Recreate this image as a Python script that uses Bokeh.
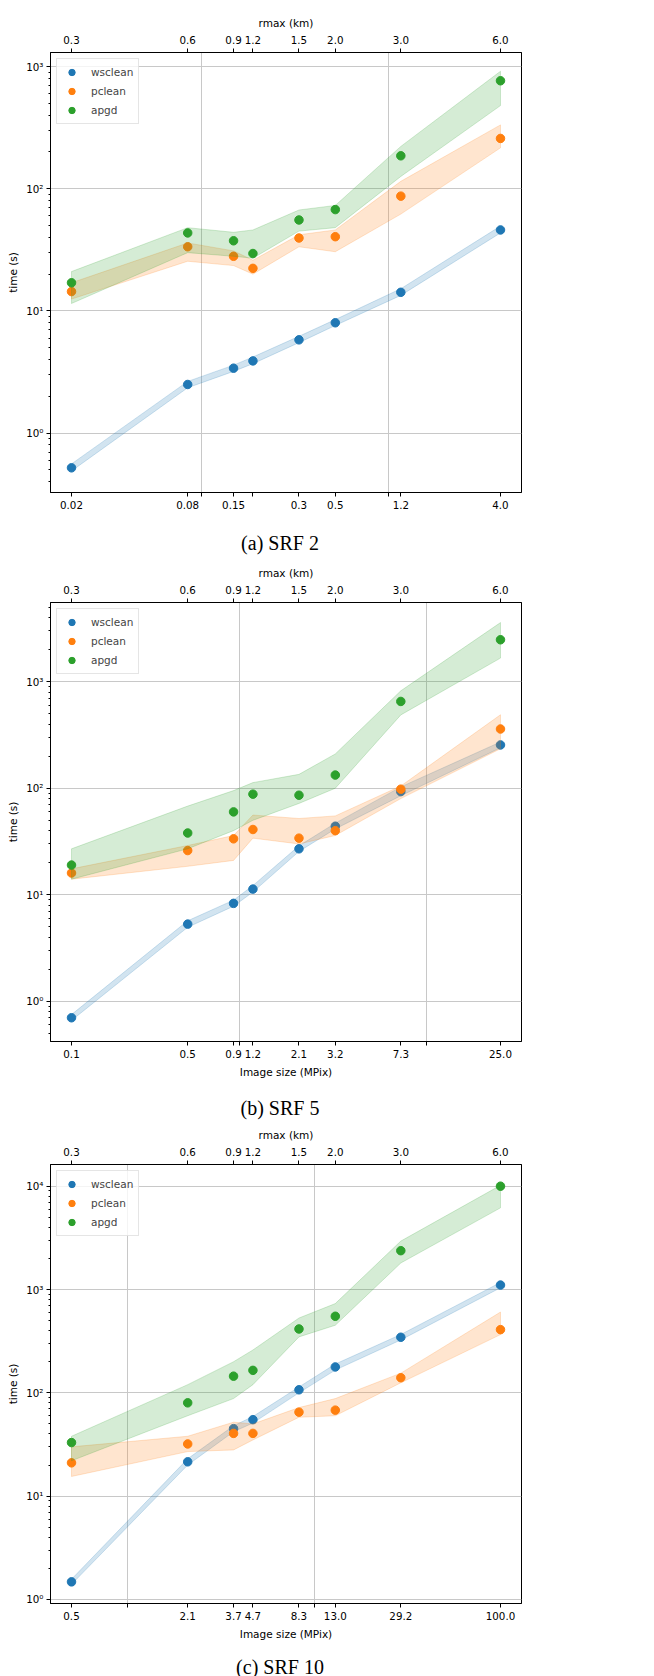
from bokeh.plotting import figure
from bokeh.models import Range1d, LogAxis, FixedTicker, Div
from bokeh.layouts import column
from bokeh.embed import file_html
from bokeh.resources import INLINE

# ---------------- data ----------------
rmax_labels = ["0.3", "0.6", "0.9", "1.2", "1.5", "2.0", "3.0", "6.0"]
methods = ["wsclean", "pclean", "apgd"]
colors = ["#1f77b4", "#ff7f0e", "#2ca02c"]

# (a) SRF 2
size_a = [0.02, 0.084, 0.148, 0.188, 0.332, 0.52, 1.168, 4.0]
size_labels_a = ["0.02", "0.08", "0.15", "", "0.3", "0.5", "1.2", "4.0"]
wsclean_a = [0.52, 2.5, 3.4, 3.9, 5.8, 8.0, 14.2, 46.0]
wsclean_a_lo = [0.49, 2.35, 3.2, 3.7, 5.5, 7.6, 13.4, 43.5]
wsclean_a_hi = [0.56, 2.65, 3.6, 4.2, 6.2, 8.5, 15.2, 49.5]
pclean_a = [14.4, 33.5, 28.0, 22.3, 39.5, 40.5, 87.0, 258.0]
pclean_a_lo = [12.5, 25.5, 23.5, 20.0, 33.5, 30.5, 62.0, 216.0]
pclean_a_hi = [17.0, 36.0, 31.0, 26.0, 42.0, 46.0, 115.0, 333.0]
apgd_a = [17.0, 43.5, 37.5, 29.5, 55.5, 67.5, 186.0, 765.0]
apgd_a_lo = [11.5, 30.0, 28.0, 27.0, 45.0, 48.0, 126.0, 479.0]
apgd_a_hi = [21.0, 48.0, 44.0, 46.0, 67.0, 73.0, 222.0, 915.0]

# (b) SRF 5
size_b = [0.125, 0.525, 0.925, 1.175, 2.075, 3.25, 7.3, 25.0]
size_labels_b = ["0.1", "0.5", "0.9", "1.2", "2.1", "3.2", "7.3", "25.0"]
wsclean_b = [0.70, 5.3, 8.3, 11.3, 27.0, 44.0, 93.0, 255.0]
wsclean_b_lo = [0.66, 4.95, 7.8, 10.6, 25.5, 41.5, 85.0, 240.0]
wsclean_b_hi = [0.75, 5.7, 8.9, 12.2, 28.8, 47.0, 103.0, 272.0]
pclean_b = [16.0, 26.0, 33.5, 41.0, 34.0, 40.0, 98.0, 360.0]
pclean_b_lo = [14.0, 18.5, 21.0, 34.0, 30.0, 36.0, 80.0, 235.0]
pclean_b_hi = [17.5, 29.0, 36.0, 56.0, 52.0, 55.0, 105.0, 490.0]
apgd_b = [19.0, 38.0, 60.0, 88.0, 86.0, 133.0, 653.0, 2478.0]
apgd_b_lo = [14.0, 27.0, 40.0, 50.0, 72.0, 100.0, 488.0, 1667.0]
apgd_b_hi = [27.0, 68.0, 95.0, 113.0, 135.0, 210.0, 822.0, 3594.0]

# (c) SRF 10
size_c = [0.5, 2.1, 3.7, 4.7, 8.3, 13.0, 29.2, 100.0]
size_labels_c = ["0.5", "2.1", "3.7", "4.7", "8.3", "13.0", "29.2", "100.0"]
wsclean_c = [1.48, 21.5, 45.0, 55.0, 107.0, 178.0, 345.0, 1104.0]
wsclean_c_lo = [1.40, 20.0, 42.0, 51.0, 100.0, 166.0, 325.0, 1040.0]
wsclean_c_hi = [1.57, 23.0, 48.0, 59.0, 114.0, 190.0, 367.0, 1170.0]
pclean_c = [21.0, 32.0, 40.5, 40.5, 65.0, 68.0, 140.0, 409.0]
pclean_c_lo = [15.5, 27.0, 28.0, 35.0, 58.0, 60.0, 125.0, 366.0]
pclean_c_hi = [30.0, 38.0, 52.0, 50.0, 72.0, 88.0, 155.0, 605.0]
apgd_c = [33.0, 80.0, 145.0, 165.0, 415.0, 551.0, 2376.0, 10000.0]
apgd_c_lo = [22.0, 60.0, 88.0, 120.0, 348.0, 451.0, 1805.0, 6170.0]
apgd_c_hi = [38.0, 120.0, 200.0, 260.0, 530.0, 731.0, 2944.0, 10200.0]

captions = ["(a) SRF 2", "(b) SRF 5", "(c) SRF 10"]

# ---------------- style ----------------
FONT = "DejaVu Sans"
PAD = 0.1127  # x padding in decades
FRAME_W = 471
GRID = "#c8c8c8"
Y_LABELS = {1.0: "10\u2070", 10.0: "10\u00b9", 100.0: "10\u00b2",
            1000.0: "10\u00b3", 10000.0: "10\u2074"}
Y_MINOR = [k * 10.0 ** e for e in range(-1, 5) for k in range(2, 10)]


def style_axis(ax):
    ax.axis_line_color = "black"
    ax.axis_line_width = 1
    ax.major_tick_line_color = "black"
    ax.minor_tick_line_color = "black"
    ax.major_tick_in = 0
    ax.major_tick_out = 4
    ax.minor_tick_in = 0
    ax.minor_tick_out = 2
    ax.major_label_text_font = FONT
    ax.major_label_text_font_size = "10.3px"
    ax.major_label_text_color = "black"
    ax.axis_label_text_font = FONT
    ax.axis_label_text_font_size = "10.5px"
    ax.axis_label_text_font_style = "normal"
    ax.axis_label_text_color = "black"


def make_panel(xs, xlabels, grid_x, series, y_rng, y_major, xlabel,
               top, bottom, frame_h):
    p = figure(x_axis_type="log", y_axis_type="log", title=None,
               x_range=Range1d(xs[0] / 10 ** PAD, xs[-1] * 10 ** PAD),
               y_range=Range1d(*y_rng),
               frame_width=FRAME_W, frame_height=frame_h,
               min_border_left=50, min_border_right=10,
               min_border_top=top, min_border_bottom=bottom,
               output_backend="svg", toolbar_location=None)
    p.background_fill_color = "white"
    p.border_fill_color = "white"
    p.outline_line_color = "black"
    p.outline_line_width = 1
    p.outline_line_alpha = 1

    for name, color, (y, lo, hi) in series:
        p.patch(xs + xs[::-1], lo + hi[::-1], fill_color=color, fill_alpha=0.2,
                line_color=color, line_alpha=0.2, line_width=1)
        p.scatter(xs, y, size=8.5, color=color, legend_label=name)

    # grid
    p.xgrid.ticker = FixedTicker(ticks=grid_x)
    p.ygrid.ticker = FixedTicker(ticks=y_major)
    p.xgrid.grid_line_color = GRID
    p.ygrid.grid_line_color = GRID
    p.xgrid.grid_line_width = 1
    p.ygrid.grid_line_width = 1

    # bottom axis (image size)
    bx = p.xaxis[0]
    style_axis(bx)
    bx.ticker = FixedTicker(ticks=xs + grid_x, minor_ticks=[])
    ov = {float(v): l for v, l in zip(xs, xlabels)}
    ov.update({float(g): "" for g in grid_x})
    bx.major_label_overrides = ov
    bx.major_label_standoff = 4
    if xlabel:
        bx.axis_label = xlabel
        bx.axis_label_standoff = 5

    # top axis (rmax)
    tx = LogAxis(ticker=FixedTicker(ticks=xs, minor_ticks=[]),
                 major_label_overrides={float(v): l for v, l in zip(xs, rmax_labels)},
                 axis_label="rmax (km)")
    style_axis(tx)
    tx.major_label_standoff = 5
    tx.axis_label_standoff = 4
    p.add_layout(tx, "above")

    # y axis
    ya = p.yaxis[0]
    style_axis(ya)
    ya.ticker = FixedTicker(ticks=y_major,
                            minor_ticks=[m for m in Y_MINOR if y_rng[0] <= m <= y_rng[1]])
    ya.major_label_overrides = {k: Y_LABELS[k] for k in y_major}
    ya.major_label_standoff = 3
    ya.axis_label = "time (s)"
    ya.axis_label_standoff = 4

    lg = p.legend[0]
    lg.location = "top_left"
    lg.margin = 6
    lg.padding = 5
    lg.spacing = 3
    lg.glyph_width = 19
    lg.glyph_height = 16
    lg.label_height = 16
    lg.label_standoff = 10
    lg.label_text_font = FONT
    lg.label_text_font_size = "10.5px"
    lg.border_line_color = "#cccccc"
    lg.border_line_width = 1
    lg.background_fill_alpha = 0.8
    return p


def caption(text, h, top, lh):
    html = ('<div style="width:560px; text-align:center; '
            'font-family:\'Liberation Serif\', \'Times New Roman\', serif; font-size:20px; color:black; '
            f'line-height:{lh}px; position:relative; top:{top}px;">{text}</div>')
    return Div(text=html, width=560, height=h, margin=(0, 0, 0, 0))


series_a = list(zip(methods, colors, [(wsclean_a, wsclean_a_lo, wsclean_a_hi),
                                      (pclean_a, pclean_a_lo, pclean_a_hi),
                                      (apgd_a, apgd_a_lo, apgd_a_hi)]))
series_b = list(zip(methods, colors, [(wsclean_b, wsclean_b_lo, wsclean_b_hi),
                                      (pclean_b, pclean_b_lo, pclean_b_hi),
                                      (apgd_b, apgd_b_lo, apgd_b_hi)]))
series_c = list(zip(methods, colors, [(wsclean_c, wsclean_c_lo, wsclean_c_hi),
                                      (pclean_c, pclean_c_lo, pclean_c_hi),
                                      (apgd_c, apgd_c_lo, apgd_c_hi)]))

pa = make_panel(size_a, size_labels_a, [0.1, 1.0], series_a, (0.3266, 1303.0),
                [1.0, 10.0, 100.0, 1000.0], None, 52, 22, 440)
pb = make_panel(size_b, size_labels_b, [1.0, 10.0], series_b, (0.419, 5546.0),
                [1.0, 10.0, 100.0, 1000.0], "Image size (MPix)", 45, 41, 439)
pc = make_panel(size_c, size_labels_c, [1.0, 10.0], series_c, (0.914, 16218.0),
                [1.0, 10.0, 100.0, 1000.0, 10000.0], "Image size (MPix)", 45, 41, 439)

layout = column(pa, caption(captions[0], 43, 19, 20),
                pb, caption(captions[1], 37, 16, 20),
                pc, caption(captions[2], 32, 14, 18))

open("out.html", "w").write(file_html(layout, INLINE))
